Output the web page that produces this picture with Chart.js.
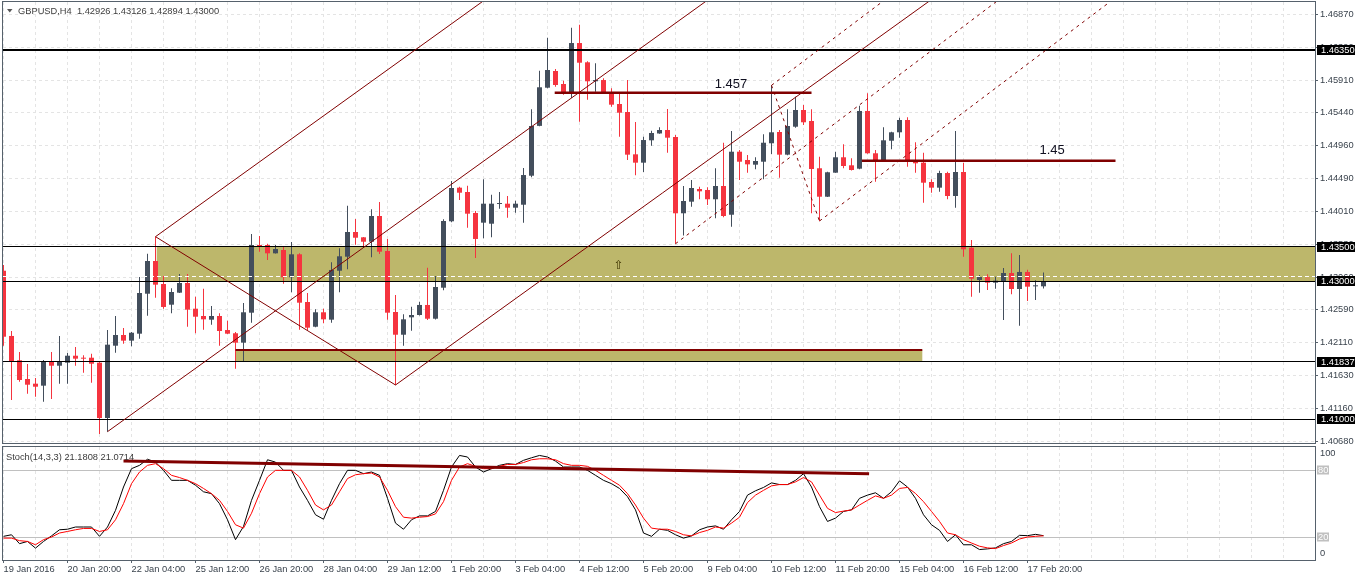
<!DOCTYPE html>
<html>
<head>
<meta charset="utf-8">
<script src="https://cdn.jsdelivr.net/npm/chart.js@4.4.1/dist/chart.umd.min.js"></script>
<style>
html,body{margin:0;padding:0;background:#fff;}
#wrap{position:relative;width:1358px;height:581px;overflow:hidden;background:#fff;}
#c1{position:absolute;left:0;top:0;width:1358px;height:446px;}
#c2{position:absolute;left:0;top:446px;width:1358px;height:135px;}
</style>
</head>
<body>
<div id="wrap">
<canvas id="c1" width="1358" height="446"></canvas>
<canvas id="c2" width="1358" height="135"></canvas>
</div>
<script>
// ---------------- DATA (GBPUSD H4, bar index 0 = 19 Jan 2016 12:00) ----------------
const symbolName = 'GBPUSD,H4';
const openP = [1.43152,1.42207,1.41855,1.41584,1.41516,1.41487,1.41830,1.41776,1.41820,1.41921,
1.41892,1.41892,1.41820,1.41019,1.42066,1.42221,1.42139,1.42240,1.42819,1.43293,
1.42960,1.42660,1.42834,1.42974,1.42602,1.42496,1.42443,1.42496,1.42293,1.42246,
1.42110,1.42544,1.43525,1.43525,1.43404,1.43452,1.43057,1.43390,1.42699,1.42341,
1.42550,1.42443,1.43152,1.43355,1.43713,1.43636,1.43572,1.43945,1.43438,1.42554,
1.42225,1.42477,1.42511,1.42656,1.42457,1.42906,1.43868,1.44355,1.44292,1.43988,
1.43848,1.43833,1.44118,1.44123,1.44065,1.44108,1.44528,1.45250,1.45803,1.46045,
1.45857,1.45731,1.46450,1.46171,1.45896,1.45914,1.45741,1.45567,1.45451,1.44838,
1.44717,1.45041,1.45140,1.45190,1.45089,1.43984,1.44152,1.44336,1.44321,1.44187,
1.44379,1.43963,1.44876,1.44756,1.44688,1.44731,1.44998,1.45161,1.44833,1.45238,
1.45480,1.45321,1.44636,1.44224,1.44572,1.44795,1.44679,1.44630,1.45466,1.44853,
1.44756,1.45035,1.45157,1.45335,1.44756,1.44717,1.44437,1.44355,1.44567,1.44234,
1.44582,1.43486,1.43018,1.43061,1.42979,1.42993,1.43119,1.42887,1.43134,1.42926,
1.42926];
const highP = [1.43235,1.42279,1.41975,1.41801,1.41598,1.41859,1.41975,1.42207,1.41960,1.42047,
1.41927,1.41950,1.41840,1.42293,1.42496,1.42322,1.42265,1.43076,1.43399,1.43645,
1.43076,1.42897,1.43105,1.43105,1.42776,1.42892,1.42641,1.42535,1.42428,1.42265,
1.42685,1.43684,1.43655,1.43543,1.43525,1.43510,1.43568,1.43404,1.42829,1.42593,
1.42602,1.43274,1.43477,1.44094,1.43901,1.43640,1.44042,1.44147,1.43612,1.42800,
1.42521,1.42631,1.42703,1.43196,1.43076,1.43897,1.44452,1.44369,1.44384,1.44017,
1.44476,1.44253,1.44292,1.44234,1.44166,1.44640,1.45490,1.46049,1.46527,1.46074,
1.45904,1.46672,1.46715,1.46185,1.46156,1.45939,1.45794,1.45731,1.45914,1.45306,
1.45093,1.45180,1.45229,1.45494,1.45118,1.44379,1.44466,1.44369,1.44360,1.44636,
1.45006,1.45176,1.44901,1.44828,1.44795,1.45128,1.45837,1.45190,1.45490,1.45673,
1.45552,1.45490,1.44804,1.44586,1.44876,1.44983,1.44780,1.45542,1.45722,1.44901,
1.45229,1.45165,1.45368,1.45374,1.45012,1.44861,1.44476,1.44601,1.44586,1.45176,
1.44717,1.43597,1.43090,1.43100,1.43066,1.43192,1.43404,1.43380,1.43167,1.43013,
1.43126];
const lowP = [1.42066,1.41280,1.41545,1.41371,1.41327,1.41255,1.41294,1.41516,1.41516,1.41776,
1.41675,1.41530,1.40787,1.40820,1.41965,1.42095,1.42057,1.42167,1.42501,1.42761,
1.42602,1.42535,1.42830,1.42341,1.42246,1.42298,1.42370,1.42066,1.42235,1.41733,
1.41840,1.42399,1.43428,1.43307,1.43400,1.42964,1.42840,1.42298,1.42294,1.42333,
1.42391,1.42399,1.42840,1.43173,1.43529,1.43510,1.43346,1.43394,1.42443,1.41497,
1.42066,1.42283,1.42505,1.42438,1.42445,1.42869,1.43853,1.44176,1.43775,1.43336,
1.43622,1.43636,1.44050,1.43920,1.43992,1.43848,1.44505,1.45245,1.45794,1.45817,
1.45702,1.45654,1.45311,1.45629,1.45745,1.45725,1.45528,1.45093,1.44756,1.44534,
1.44582,1.44963,1.45137,1.44861,1.43543,1.43662,1.44079,1.44187,1.44104,1.43911,
1.43926,1.43790,1.44466,1.44572,1.44621,1.44476,1.44843,1.44499,1.44824,1.45224,
1.45263,1.43984,1.43872,1.44220,1.44570,1.44636,1.44605,1.44620,1.44845,1.44442,
1.44750,1.44911,1.45079,1.44659,1.44572,1.44137,1.44282,1.44297,1.44187,1.44065,
1.43355,1.42776,1.42834,1.42873,1.42892,1.42438,1.42811,1.42356,1.42714,1.42728,
1.42894];
const closeP = [1.42196,1.41844,1.41569,1.41501,1.41472,1.41840,1.41776,1.41840,1.41921,1.41878,
1.41878,1.41805,1.41019,1.42081,1.42221,1.42139,1.42254,1.42829,1.43293,1.42950,
1.42627,1.42844,1.42974,1.42588,1.42486,1.42448,1.42496,1.42279,1.42240,1.42110,
1.42550,1.43525,1.43500,1.43404,1.43467,1.43057,1.43390,1.42689,1.42327,1.42550,
1.42448,1.43163,1.43361,1.43713,1.43630,1.43572,1.43945,1.43428,1.42544,1.42225,
1.42448,1.42511,1.42656,1.42457,1.42916,1.43872,1.44350,1.44282,1.43978,1.43612,
1.44123,1.44123,1.44123,1.44065,1.44123,1.44538,1.45248,1.45809,1.46059,1.45842,
1.45726,1.46450,1.46165,1.45896,1.45914,1.45731,1.45557,1.45441,1.44833,1.44717,
1.45045,1.45147,1.45190,1.45079,1.43984,1.44162,1.44350,1.44302,1.44187,1.44379,
1.43945,1.44876,1.44731,1.44693,1.44741,1.45006,1.45157,1.44833,1.45248,1.45480,
1.45302,1.44625,1.44224,1.44578,1.44795,1.44669,1.44611,1.45466,1.44853,1.44741,
1.45041,1.45157,1.45335,1.44746,1.44708,1.44427,1.44355,1.44567,1.44234,1.44582,
1.43462,1.43037,1.43061,1.42979,1.43008,1.43119,1.42887,1.43134,1.42921,1.42926,
1.43000];

const stochK = [20.6,22,14,16,10,16,21,26.5,27,29,29,29,20.6,29,44,65,81.5,84.5,90,87.4,
80,71,71,71,66.6,60.7,59,50,35.5,17.6,29.5,53,71,89.5,87.4,80,80,65,53,40,
36,53,68,80,80,77,78.5,75.5,54.8,32.5,27,35.5,39,39,43,62,83,93.4,92,83,
78.5,81.5,84.5,86,85.3,89,91.3,93.4,92,88.3,83,83,83,80,75.5,71,68,63.7,56.3,44.4,
23.6,20.6,27,26,22,19,21,26.5,29,30,27,35.5,43,57.7,61.6,64.6,68.7,67.2,67.2,71,
77,65,47.3,34,37,43,44.4,54.8,57.7,59.8,54.8,60.7,70.5,65,54.8,40,31,26,16,22,
13,13,8.7,9.3,10.2,14,16,21.5,21.2,22.4,21.1808];
const stochD = [19,19,16.7,16,13,17.6,20,23.6,25,26.5,27.7,27.7,25,26.5,35.5,50,68,78.5,84.5,86,
81.5,75.5,73.5,71,68,63.7,59,53,43,31,28,41.4,59,74,80,80,80,74,62,48.8,
44.4,48.8,60.7,72.6,76,77,77.6,74,62,47.3,37.8,37,37.8,38.4,40.8,51.8,71,83,86,83.6,
81.5,81.5,83.6,85.3,85.3,87,89.5,90.4,90.4,89.5,86,84.5,84.5,83.6,80,75.5,71,66.6,59,48.8,
37,28,27,27,25,22,21,24,26,29,28,32.5,37.8,51,57.7,62,66,67.2,67.2,69.6,
73.5,69.6,57.7,45.8,42,43.3,44.4,48.8,53,57,54.8,57.7,63.7,64.6,59.2,51.8,43,34,23.6,22,
17.6,14.6,11.7,10.2,9.6,12.3,14.6,18.2,20,20.6,21.0714];

const timeLabels = ['19 Jan 2016','20 Jan 20:00','22 Jan 04:00','25 Jan 12:00','26 Jan 20:00',
'28 Jan 04:00','29 Jan 12:00','1 Feb 20:00','3 Feb 04:00','4 Feb 12:00','5 Feb 20:00',
'9 Feb 04:00','10 Feb 12:00','11 Feb 20:00','15 Feb 04:00','16 Feb 12:00','17 Feb 20:00'];
const priceTicks = [1.46870,1.46390,1.45910,1.45440,1.44960,1.44490,1.44010,1.43530,1.43060,1.42590,1.42110,1.41630,1.41160,1.40680];
const levelPrices = [1.46350,1.43500,1.43000,1.41837,1.41000];
const whiteLinePrice = 1.43071;
// zones: [startBar, endBar, upperPrice, lowerPrice]
const zoneUpper = [19.15, 170, 1.43500, 1.43000];
const zoneLower = [29, 114.85, 1.42000, 1.41837];
// pitchforks: [bar, price] for pivot, high, low
const forkSolid = [[13,1.40821],[19,1.43645],[49,1.41497]];
const forkDashed = [[84,1.43543],[96,1.45837],[102,1.43872]];
// horizontal trend segments: [startBar, endBar, price]
const seg1457 = [68.9, 101, 1.45731];
const seg145 = [107.3, 139, 1.44746];
// text notes: [bar, price, text]
const notes = [[88.9, 1.45794, '1.457'], [129.5, 1.44843, '1.45']];
const arrowMark = [76.9, 1.43220, '\u21E7'];
// stochastic trend line: [bar, value]
const stochTrend = [[15, 88.5], [108.2, 77]];
const stochLevels = [80, 20];

// ---------------- STYLE ----------------
const BULL = '#434e5c', BEAR = '#f5343f', MAROON = '#800000', FRAME = '#56616c', GRID = '#e4e4e4', TXT = '#3a434d';
const FONT = "'Liberation Sans', Arial, sans-serif";
Chart.defaults.animation = false;
Chart.defaults.font.family = FONT;
Chart.defaults.font.size = 9.3;
Chart.defaults.color = TXT;

const XMIN = -0.0625, XMAX = 163.9375;
const colors = closeP.map((c, i) => c >= openP[i] ? BULL : BEAR);
const wickData = lowP.map((l, i) => ({x: i, y: [l, highP[i]]}));
const bodyData = openP.map((o, i) => ({x: i, y: [o, closeP[i]]}));

function crisp(v) { return Math.round(v - 0.5) + 0.5; }

function drawFork(ctx, pts, sx, sy) {
  const P = pts.map(p => [sx(p[0]), sy(p[1])]);
  const mx = (P[1][0] + P[2][0]) / 2, my = (P[1][1] + P[2][1]) / 2;
  const dx = mx - P[0][0], dy = my - P[0][1];
  const k = 40;
  ctx.beginPath();
  ctx.moveTo(P[0][0], P[0][1]); ctx.lineTo(P[0][0] + dx * k, P[0][1] + dy * k);
  ctx.moveTo(P[1][0], P[1][1]); ctx.lineTo(P[1][0] + dx * k, P[1][1] + dy * k);
  ctx.moveTo(P[2][0], P[2][1]); ctx.lineTo(P[2][0] + dx * k, P[2][1] + dy * k);
  ctx.moveTo(P[1][0], P[1][1]); ctx.lineTo(P[2][0], P[2][1]);
  ctx.stroke();
}

const mainDeco = {
  id: 'mainDeco',
  beforeDatasetsDraw(chart) {
    const {ctx, chartArea: ca, scales: {x, y}} = chart;
    ctx.save();
    ctx.beginPath(); ctx.rect(ca.left, ca.top, ca.right - ca.left, ca.bottom - ca.top); ctx.clip();
    ctx.strokeStyle = GRID; ctx.lineWidth = 1; ctx.setLineDash([3, 3]);
    ctx.beginPath();
    for (let i = 0; i <= 164; i += 4) { const px = crisp(x.getPixelForValue(i)); ctx.moveTo(px, ca.top); ctx.lineTo(px, ca.bottom); }
    for (const p of priceTicks) { const py = crisp(y.getPixelForValue(p)); ctx.moveTo(ca.left, py); ctx.lineTo(ca.right, py); }
    ctx.stroke();
    ctx.setLineDash([]);
    ctx.fillStyle = '#bdb76b';
    for (const z of [zoneUpper, zoneLower]) {
      const x0 = x.getPixelForValue(z[0]), x1 = Math.min(ca.right, x.getPixelForValue(z[1]));
      const y0 = y.getPixelForValue(z[2]), y1 = y.getPixelForValue(z[3]);
      ctx.fillRect(x0, y0, x1 - x0, y1 - y0);
    }
    ctx.restore();
  },
  afterDatasetsDraw(chart) {
    const {ctx, chartArea: ca, scales: {x, y}} = chart;
    const sx = v => x.getPixelForValue(v), sy = v => y.getPixelForValue(v);
    ctx.save();
    ctx.beginPath(); ctx.rect(ca.left, ca.top, ca.right - ca.left, ca.bottom - ca.top); ctx.clip();
    // white dashed line
    ctx.strokeStyle = '#ffffff'; ctx.lineWidth = 1; ctx.setLineDash([4, 3]);
    ctx.beginPath(); const wy = crisp(sy(whiteLinePrice)); ctx.moveTo(ca.left, wy); ctx.lineTo(ca.right, wy); ctx.stroke();
    ctx.setLineDash([]);
    // level lines
    ctx.strokeStyle = '#000';
    levelPrices.forEach((p, idx) => {
      ctx.lineWidth = idx === 0 ? 2 : 1;
      const py = idx === 0 ? Math.round(sy(p)) : crisp(sy(p));
      ctx.beginPath(); ctx.moveTo(ca.left, py); ctx.lineTo(ca.right, py); ctx.stroke();
    });
    // zone lower top border
    ctx.strokeStyle = MAROON; ctx.lineWidth = 2;
    ctx.beginPath(); ctx.moveTo(sx(zoneLower[0]), Math.round(sy(zoneLower[2]))); ctx.lineTo(sx(zoneLower[1]), Math.round(sy(zoneLower[2]))); ctx.stroke();
    // pitchforks
    ctx.lineWidth = 1; ctx.strokeStyle = MAROON;
    drawFork(ctx, forkSolid, sx, sy);
    ctx.setLineDash([3, 4]);
    drawFork(ctx, forkDashed, sx, sy);
    ctx.setLineDash([]);
    // horizontal segments
    ctx.lineWidth = 2.5;
    for (const s of [seg1457, seg145]) {
      const py = sy(s[2]);
      ctx.beginPath(); ctx.moveTo(sx(s[0]), py); ctx.lineTo(sx(s[1]), py); ctx.stroke();
    }
    // notes
    ctx.fillStyle = '#101020'; ctx.font = '13px ' + FONT; ctx.textBaseline = 'alphabetic'; ctx.textAlign = 'left';
    for (const n of notes) ctx.fillText(n[2], sx(n[0]), sy(n[1]));
    ctx.fillStyle = '#3d3300'; ctx.font = '12px "DejaVu Sans"'; ctx.textAlign = 'center'; ctx.textBaseline = 'middle';
    ctx.fillText(arrowMark[2], sx(arrowMark[0]), sy(arrowMark[1]));
    ctx.restore();
  },
  afterDraw(chart) {
    const {ctx, chartArea: ca, scales: {y}} = chart;
    ctx.save();
    ctx.strokeStyle = FRAME; ctx.lineWidth = 1;
    ctx.strokeRect(2.5, 1.5, 1313, 442);
    // price labels for level lines
    ctx.font = '9.3px ' + FONT; ctx.textBaseline = 'middle'; ctx.textAlign = 'left';
    for (const p of levelPrices) {
      const py = Math.round(y.getPixelForValue(p));
      ctx.fillStyle = '#000'; ctx.fillRect(1317, py - 5, 38, 10);
      ctx.fillStyle = '#fff'; ctx.fillText(p.toFixed(5), 1321, py + 0.5);
    }
    // header
    const n = closeP.length - 1;
    ctx.fillStyle = '#555';
    ctx.beginPath(); ctx.moveTo(7, 9); ctx.lineTo(12.5, 9); ctx.lineTo(9.75, 12.5); ctx.closePath(); ctx.fill();
    ctx.fillStyle = '#3c3c3c';
    ctx.fillText(symbolName + '  ' + [openP[n], highP[n], lowP[n], closeP[n]].map(v => v.toFixed(5)).join(' '), 18, 11);
    ctx.restore();
  }
};

new Chart(document.getElementById('c1'), {
  type: 'bar',
  data: {datasets: [
    {label: 'wick', data: wickData, backgroundColor: colors, borderWidth: 0, grouped: false, barThickness: 1, maxBarThickness: 1, inflateAmount: 0, order: 2},
    {label: 'body', data: bodyData, backgroundColor: colors, borderWidth: 0, grouped: false, barThickness: 5, maxBarThickness: 5, minBarLength: 1, inflateAmount: 0, order: 1}
  ]},
  options: {
    responsive: false, animation: false, events: [],
    layout: {padding: {top: 2, left: 3, right: 0, bottom: 2}},
    plugins: {legend: {display: false}, tooltip: {enabled: false}},
    scales: {
      x: {type: 'linear', min: XMIN, max: XMAX, offset: false, display: false},
      y: {type: 'linear', position: 'right', min: 1.406422, max: 1.470443,
        afterBuildTicks: s => { s.ticks = priceTicks.slice().reverse().map(v => ({value: v})); },
        afterFit: s => { s.width = 43; s.paddingTop = 0; s.paddingBottom = 0; },
        ticks: {autoSkip: false, padding: 2, color: TXT, callback: v => Number(v).toFixed(5)},
        grid: {display: true, drawOnChartArea: false, drawTicks: true, tickLength: 3, tickColor: FRAME},
        border: {display: false}}
    }
  },
  plugins: [mainDeco]
});

const stochDeco = {
  id: 'stochDeco',
  beforeDatasetsDraw(chart) {
    const {ctx, chartArea: ca, scales: {x, y}} = chart;
    ctx.save();
    ctx.beginPath(); ctx.rect(ca.left, ca.top, ca.right - ca.left, ca.bottom - ca.top); ctx.clip();
    ctx.strokeStyle = GRID; ctx.lineWidth = 1; ctx.setLineDash([3, 3]);
    ctx.beginPath();
    for (let i = 0; i <= 164; i += 4) { const px = crisp(x.getPixelForValue(i)); ctx.moveTo(px, ca.top); ctx.lineTo(px, ca.bottom); }
    ctx.stroke();
    ctx.setLineDash([]);
    ctx.strokeStyle = '#c0c0c0';
    ctx.beginPath();
    for (const l of stochLevels) { const py = crisp(y.getPixelForValue(l)); ctx.moveTo(ca.left, py); ctx.lineTo(ca.right, py); }
    ctx.stroke();
    ctx.restore();
  },
  afterDraw(chart) {
    const {ctx, chartArea: ca, scales: {y}} = chart;
    ctx.save();
    ctx.strokeStyle = FRAME; ctx.lineWidth = 1;
    ctx.strokeRect(2.5, 0.5, 1313, 114);
    ctx.font = '9.3px ' + FONT; ctx.textBaseline = 'middle'; ctx.textAlign = 'left';
    ctx.fillStyle = TXT;
    ctx.fillText('100', 1320, ca.top + 6.5);
    ctx.fillText('0', 1320, ca.bottom - 6.5);
    for (const l of stochLevels) {
      const py = Math.round(y.getPixelForValue(l));
      ctx.fillStyle = '#c0c0c0'; ctx.fillRect(1317, py - 4.5, 12, 9);
      ctx.fillStyle = '#ffffff'; ctx.fillText(String(l), 1318, py + 0.5);
    }
    const n = stochK.length - 1;
    ctx.fillStyle = '#3c3c3c';
    ctx.fillText('Stoch(14,3,3) ' + stochK[n].toFixed(4) + ' ' + stochD[n].toFixed(4), 6, 11);
    ctx.restore();
  }
};

new Chart(document.getElementById('c2'), {
  type: 'line',
  data: {datasets: [
    {label: 'K', data: stochK.map((v, i) => ({x: i, y: v})), borderColor: '#000000', borderWidth: 1, pointRadius: 0, tension: 0, order: 3},
    {label: 'D', data: stochD.map((v, i) => ({x: i, y: v})), borderColor: '#ff0000', borderWidth: 1, pointRadius: 0, tension: 0, order: 2},
    {label: 'trend', data: stochTrend.map(p => ({x: p[0], y: p[1]})), borderColor: MAROON, borderWidth: 3, pointRadius: 0, tension: 0, order: 1}
  ]},
  options: {
    responsive: false, animation: false, events: [],
    layout: {padding: {top: 1, left: 3, right: 43, bottom: 0}},
    plugins: {legend: {display: false}, tooltip: {enabled: false}},
    scales: {
      x: {type: 'linear', min: XMIN, max: XMAX, offset: false,
        afterBuildTicks: s => { const t = []; for (let v = 0; v <= 160; v += 4) t.push({value: v}); s.ticks = t; },
        afterFit: s => { s.height = 21; s.paddingLeft = 0; s.paddingRight = 0; },
        ticks: {autoSkip: false, maxRotation: 0, minRotation: 0, align: 'start', padding: 1, color: TXT,
          callback: v => (v % 8 === 0 && v / 8 < timeLabels.length) ? timeLabels[v / 8] : ''},
        grid: {display: true, drawOnChartArea: false, drawTicks: true, tickLength: 3,
          tickColor: c => (c.tick && c.tick.value % 8 === 0 && c.tick.value / 8 < timeLabels.length) ? FRAME : 'rgba(0,0,0,0)'},
        border: {display: false}},
      y: {type: 'linear', display: false, min: -0.7, max: 101}
    }
  },
  plugins: [stochDeco]
});
</script>
</body>
</html>
